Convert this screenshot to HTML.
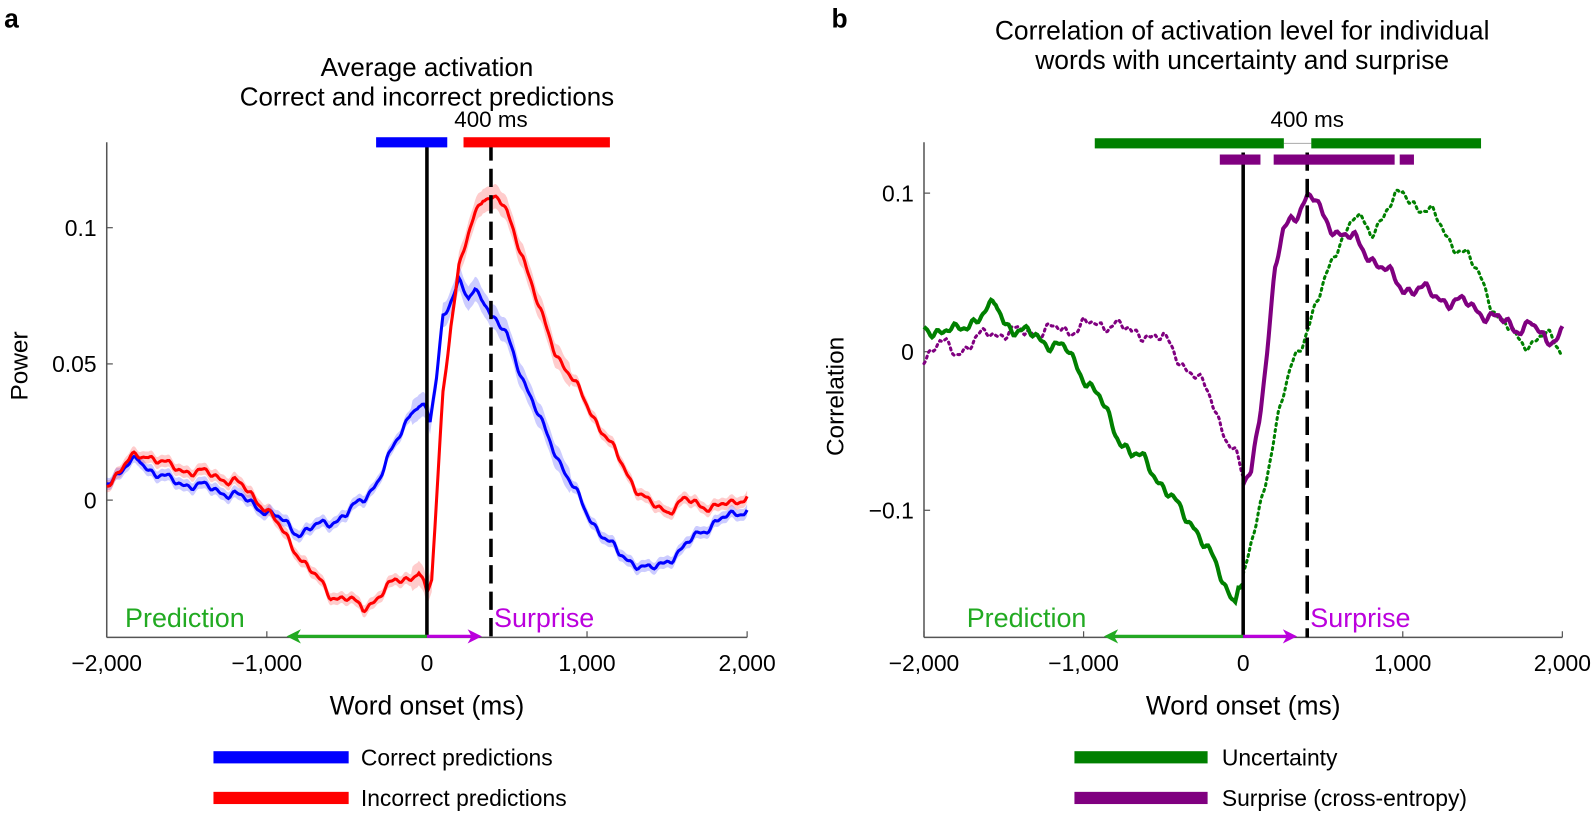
<!DOCTYPE html>
<html><head><meta charset="utf-8"><style>
html,body{margin:0;padding:0;background:#fff}
svg{display:block;font-family:"Liberation Sans",Arial,sans-serif}
</style></head><body>
<svg id="s" width="1594" height="813" viewBox="0 0 1594 813" xmlns="http://www.w3.org/2000/svg">
<g transform="scale(1.0165)">
<text x="4" y="27" font-size="26" font-weight="bold">a</text>
<text x="818" y="27" font-size="26" font-weight="bold">b</text>
<text x="420" y="75" font-size="25.5" text-anchor="middle">Average activation</text>
<text x="420" y="104" font-size="25.5" text-anchor="middle">Correct and incorrect predictions</text>
<text x="1222" y="39" font-size="26" text-anchor="middle">Correlation of activation level for individual</text>
<text x="1222" y="68" font-size="26" text-anchor="middle">words with uncertainty and surprise</text>
<g id="A"></g>
<g id="B"></g>
<text x="483" y="125" font-size="22" text-anchor="middle">400 ms</text>
<text x="1286" y="125" font-size="22" text-anchor="middle">400 ms</text>
<text transform="translate(27,360) rotate(-90)" font-size="24" text-anchor="middle">Power</text>
<text transform="translate(830,390) rotate(-90)" font-size="24" text-anchor="middle">Correlation</text>
<text x="420" y="703" font-size="26" text-anchor="middle">Word onset (ms)</text>
<text x="1223" y="703" font-size="26" text-anchor="middle">Word onset (ms)</text>
<rect x="210" y="739" width="133" height="12" fill="#0000ff"/>
<rect x="210" y="779" width="133" height="12" fill="#ff0000"/>
<text x="355" y="753" font-size="22.5">Correct predictions</text>
<text x="355" y="793" font-size="22.5">Incorrect predictions</text>
<rect x="1057" y="739" width="131" height="12" fill="#008000"/>
<rect x="1057" y="779" width="131" height="12" fill="#800080"/>
<text x="1202" y="753" font-size="22.5">Uncertainty</text>
<text x="1202" y="793" font-size="22.5">Surprise (cross-entropy)</text>
</g>
</svg>
<script>
var NS="http://www.w3.org/2000/svg";
function el(p,t,a,txt){var e=document.createElementNS(NS,t);for(var k in a)e.setAttribute(k,a[k]);if(txt!==undefined)e.textContent=txt;p.appendChild(e);return e;}
function interp(pts,x){for(var i=0;i<pts.length-1;i++){if(x>=pts[i][0]&&x<=pts[i+1][0]){var t=(x-pts[i][0])/(pts[i+1][0]-pts[i][0]);return pts[i][1]+t*(pts[i+1][1]-pts[i][1]);}}return pts[pts.length-1][1];}
function series(pts,x0,x1,step,wig,seed){var o=[];for(var x=x0;x<=x1+0.01;x+=step){var w=wig*(Math.sin(x/37+seed)+0.6*Math.sin(x/17+seed*2)+0.4*Math.sin(x/9+seed*3));o.push([x,interp(pts,x)+w]);}return o;}
function path(o,fx,fy){return o.map(function(p,i){return (i?"L":"M")+fx(p[0]).toFixed(1)+" "+fy(p[1]).toFixed(1);}).join("");}
function axes(g,X,Y,x0,x1,yb,yt,ticks,fmt){
 el(g,"line",{x1:x0,y1:yt,x2:x0,y2:yb,stroke:"#555","stroke-width":1.5});
 el(g,"line",{x1:x0,y1:yb,x2:x1,y2:yb,stroke:"#555","stroke-width":1.5});
 [-2000,-1000,0,1000,2000].forEach(function(v){var x=X(v);el(g,"line",{x1:x,y1:yb,x2:x,y2:yb-6,stroke:"#555","stroke-width":1.2});
 el(g,"text",{x:x,y:yb+33,"font-size":22.5,"text-anchor":"middle"},v==0?"0":(v<0?"\u2212":"")+Math.abs(v).toLocaleString("en-US"));});
 ticks.forEach(function(v){var y=Y(v);el(g,"line",{x1:x0,y1:y,x2:x0+6,y2:y,stroke:"#555","stroke-width":1.2});
 el(g,"text",{x:x0-10,y:y+8,"font-size":22.5,"text-anchor":"end"},fmt(v));});
}
function sigbar(g,xa,xb,y,c){el(g,"rect",{x:xa,y:y-5,width:xb-xa,height:10,fill:c});}
// Panel A
(function(){
var g=document.getElementById("A");
var X=function(v){return 420+v*0.1575;},Y=function(v){return 492-v*2680;};
axes(g,X,Y,105,735,627,140,[0,0.05,0.1],function(v){return v==0?"0":(v==0.05?"0.05":"0.1");});
var blue=[[-2000,0.007],[-1800,0.015],[-1700,0.01],[-1600,0.007],[-1400,0.005],[-1200,0.002],[-1000,-0.004],[-900,-0.008],[-800,-0.012],[-700,-0.01],[-600,-0.008],[-500,-0.005],[-400,0],[-300,0.008],[-200,0.02],[-100,0.033],[-50,0.035],[0,0.032],[20,0.028],[60,0.045],[100,0.068],[200,0.08],[260,0.073],[300,0.077],[350,0.075],[400,0.068],[500,0.06],[600,0.045],[700,0.03],[800,0.018],[900,0.006],[1000,-0.005],[1100,-0.013],[1200,-0.02],[1300,-0.023],[1400,-0.026],[1500,-0.022],[1600,-0.018],[1700,-0.012],[1800,-0.008],[1900,-0.006],[2000,-0.003]];
var red=[[-2000,0.006],[-1850,0.015],[-1750,0.017],[-1600,0.012],[-1400,0.01],[-1200,0.007],[-1000,-0.003],[-900,-0.012],[-800,-0.02],[-700,-0.028],[-600,-0.035],[-500,-0.036],[-400,-0.04],[-300,-0.035],[-200,-0.03],[-100,-0.028],[-50,-0.026],[0,-0.035],[30,-0.03],[60,0],[100,0.04],[150,0.065],[200,0.085],[300,0.105],[350,0.112],[450,0.11],[500,0.105],[600,0.09],[700,0.07],[800,0.055],[900,0.045],[1000,0.035],[1100,0.025],[1200,0.015],[1300,0.005],[1400,-0.002],[1500,-0.004],[1600,0],[1700,-0.002],[1800,-0.002],[1900,-0.002],[2000,0.002]];
function band(pts,c,wf){var o=series(pts,-2000,2000,10,0.0012,1.3);var up=o.map(function(p){return [p[0],p[1]+wf(p[0])];});var dn=o.map(function(p){return [p[0],p[1]-wf(p[0])];}).reverse();
 el(g,"path",{d:path(up.concat(dn),X,Y)+"Z",fill:c,"fill-opacity":0.2,stroke:"none"});return o;}
var wf=function(x){return (x>-100&&x<900)?0.0045:0.0022;};
var ob=band(blue,"#0000ff",wf), or_=band(red,"#ff0000",wf);
el(g,"path",{d:path(ob,X,Y),fill:"none",stroke:"#0000ff","stroke-width":3});
el(g,"path",{d:path(or_,X,Y),fill:"none",stroke:"#ff0000","stroke-width":3});
el(g,"line",{x1:420,y1:140,x2:420,y2:627,stroke:"#000","stroke-width":3.5});
el(g,"line",{x1:483,y1:140,x2:483,y2:627,stroke:"#000","stroke-width":3.5,"stroke-dasharray":"18 8"});
sigbar(g,370,440,140,"#0000ff");sigbar(g,456,600,140,"#ff0000");
el(g,"line",{x1:420,y1:626,x2:290,y2:626,stroke:"#22aa22","stroke-width":3});
el(g,"path",{d:"M282 626 L296 619 L292 626 L296 633Z",fill:"#22aa22"});
el(g,"line",{x1:420,y1:626,x2:466,y2:626,stroke:"#bb00dd","stroke-width":3});
el(g,"path",{d:"M474 626 L460 619 L464 626 L460 633Z",fill:"#bb00dd"});
el(g,"text",{x:123,y:617,"font-size":26.5,fill:"#22aa22"},"Prediction");
el(g,"text",{x:486,y:617,"font-size":26.5,fill:"#bb00dd"},"Surprise");
})();
// Panel B
(function(){
var g=document.getElementById("B");
var X=function(v){return 1223+v*0.157;},Y=function(v){return 346-v*1560;};
axes(g,X,Y,909,1537,627,140,[-0.1,0,0.1],function(v){return v==0?"0":(v<0?"\u22120.1":"0.1");});
var gs=[[-2000,0.015],[-1800,0.012],[-1700,0.02],[-1600,0.025],[-1550,0.03],[-1500,0.02],[-1400,0.012],[-1300,0.01],[-1200,0.005],[-1100,0],[-1000,-0.015],[-900,-0.03],[-800,-0.05],[-700,-0.065],[-600,-0.07],[-500,-0.085],[-400,-0.1],[-300,-0.11],[-200,-0.13],[-100,-0.15],[-50,-0.155],[-30,-0.145],[0,-0.15]];
var gd=[[0,-0.145],[100,-0.1],[200,-0.05],[300,-0.01],[400,0.015],[500,0.04],[600,0.07],[700,0.085],[800,0.075],[900,0.09],[1000,0.1],[1100,0.092],[1200,0.085],[1300,0.07],[1400,0.06],[1500,0.045],[1600,0.02],[1700,0.01],[1800,0.005],[1900,0.01],[2000,0.002]];
var pd=[[-2000,-0.003],[-1900,0.005],[-1800,0],[-1700,0.005],[-1600,0.012],[-1400,0.012],[-1200,0.014],[-1100,0.013],[-1000,0.018],[-900,0.015],[-800,0.02],[-700,0.01],[-600,0.012],[-500,0.008],[-400,-0.005],[-300,-0.015],[-200,-0.03],[-100,-0.055],[-50,-0.065],[0,-0.08]];
var ps=[[0,-0.085],[50,-0.075],[100,-0.04],[150,0],[200,0.05],[250,0.075],[300,0.085],[350,0.09],[400,0.097],[450,0.095],[500,0.085],[600,0.075],[700,0.07],[800,0.06],[900,0.05],[1000,0.04],[1100,0.04],[1200,0.035],[1300,0.032],[1400,0.03],[1500,0.025],[1600,0.02],[1700,0.015],[1800,0.018],[1900,0.005],[2000,0.015]];
el(g,"path",{d:path(series(pd,-2000,0,10,0.003,2.1),X,Y),fill:"none",stroke:"#800080","stroke-width":3,"stroke-dasharray":"2 4","stroke-linecap":"round"});
el(g,"path",{d:path(series(gd,0,2000,10,0.003,0.7),X,Y),fill:"none",stroke:"#008000","stroke-width":3,"stroke-dasharray":"2 4","stroke-linecap":"round"});
el(g,"path",{d:path(series(gs,-2000,0,10,0.003,0.4),X,Y),fill:"none",stroke:"#008000","stroke-width":4});
el(g,"path",{d:path(series(ps,0,2000,10,0.003,1.9),X,Y),fill:"none",stroke:"#800080","stroke-width":4});
el(g,"line",{x1:1223,y1:150,x2:1223,y2:627,stroke:"#000","stroke-width":3.5});
el(g,"line",{x1:1286,y1:150,x2:1286,y2:627,stroke:"#000","stroke-width":3.5,"stroke-dasharray":"18 8"});
el(g,"line",{x1:1263,y1:141,x2:1290,y2:141,stroke:"#aaa","stroke-width":1});
sigbar(g,1077,1263,141,"#008000");sigbar(g,1290,1457,141,"#008000");
sigbar(g,1200,1240,157,"#800080");sigbar(g,1253,1372,157,"#800080");sigbar(g,1377,1391,157,"#800080");
el(g,"line",{x1:1223,y1:626,x2:1094,y2:626,stroke:"#22aa22","stroke-width":3});
el(g,"path",{d:"M1086 626 L1100 619 L1096 626 L1100 633Z",fill:"#22aa22"});
el(g,"line",{x1:1223,y1:626,x2:1268,y2:626,stroke:"#bb00dd","stroke-width":3});
el(g,"path",{d:"M1276 626 L1262 619 L1266 626 L1262 633Z",fill:"#bb00dd"});
el(g,"text",{x:951,y:617,"font-size":26.5,fill:"#22aa22"},"Prediction");
el(g,"text",{x:1289,y:617,"font-size":26.5,fill:"#bb00dd"},"Surprise");
})();
</script>
</body></html>
